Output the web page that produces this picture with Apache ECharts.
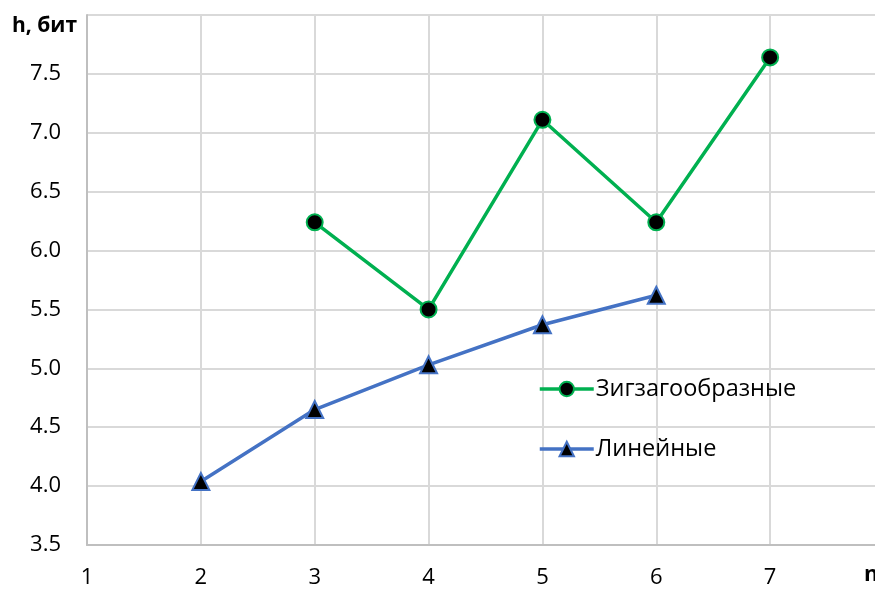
<!DOCTYPE html>
<html>
<head>
<meta charset="utf-8">
<script src="https://cdn.jsdelivr.net/npm/echarts@6/dist/echarts.min.js"></script>
<style>
  html, body { margin: 0; padding: 0; background: #fff; overflow: hidden; }
  #chart { width: 875px; height: 592px; }
</style>
</head>
<body>
<div id="chart"></div>
<script>
// Entropy h (bits) versus n for zigzag and linear shapes
const zigzagN = [3, 4, 5, 6, 7];
const zigzagH = [6.24, 5.50, 7.11, 6.24, 7.64];
const linearN = [2, 3, 4, 5, 6];
const linearH = [4.04, 4.65, 5.03, 5.37, 5.62];
const seriesNames = ['Зигзагообразные', 'Линейные'];
const yAxisTitle = 'h, бит';
const xAxisTitle = 'n';

const font = '"Open Sans", "Liberation Sans", sans-serif';
const chart = echarts.init(document.getElementById('chart'), null, { renderer: 'canvas' });

chart.setOption({
  animation: false,
  backgroundColor: '#ffffff',
  // the plot runs on past the right edge of the canvas, so n = 8 is clipped
  grid: { left: 87, top: 15, width: 797, height: 530, containLabel: false, outerBoundsMode: 'none' },
  legend: {
    orient: 'vertical',
    left: 533,
    top: 372,
    itemWidth: 54,
    itemHeight: 18,
    itemGap: 36,
    lineStyle: { width: 3.5 },
    textStyle: { fontFamily: font, fontSize: 23.5, color: '#000', padding: [0, 0, 0, -3] },
    data: seriesNames
  },
  graphic: [{
    type: 'text',
    left: 864,
    top: 564,
    style: { text: xAxisTitle, fontFamily: font, fontSize: 22, fontWeight: 'bold', fill: '#000' }
  }],
  xAxis: {
    type: 'value',
    min: 1, max: 8, interval: 1,
    axisLine: { show: true, lineStyle: { color: '#bfbfbf', width: 2 } },
    axisTick: { show: false },
    splitLine: { show: true, lineStyle: { color: '#d9d9d9', width: 2 } },
    axisLabel: {
      fontFamily: font, fontSize: 22, color: '#000', margin: 22,
      formatter: v => (v >= 8 ? '' : String(v))
    }
  },
  yAxis: {
    type: 'value',
    min: 3.5, max: 8, interval: 0.5,
    name: yAxisTitle,
    nameLocation: 'end',
    nameGap: 0,
    nameTextStyle: { fontFamily: font, fontSize: 21, color: '#000', fontWeight: 'bold', align: 'right', padding: [0, 10, -22, 0] },
    axisLine: { show: true, lineStyle: { color: '#bfbfbf', width: 2 } },
    axisTick: { show: false },
    splitLine: { show: true, lineStyle: { color: '#d9d9d9', width: 2 } },
    axisLabel: {
      fontFamily: font, fontSize: 22, color: '#000', margin: 26,
      formatter: v => (v >= 8 ? '' : v.toFixed(1))
    }
  },
  series: [
    {
      name: seriesNames[0],
      type: 'line',
      data: zigzagN.map((n, i) => [n, zigzagH[i]]),
      symbol: 'circle',
      symbolSize: 16,
      lineStyle: { color: '#00b050', width: 3.5 },
      itemStyle: { color: '#000', borderColor: '#00b050', borderWidth: 2 },
      color: '#00b050'
    },
    {
      name: seriesNames[1],
      type: 'line',
      data: linearN.map((n, i) => [n, linearH[i]]),
      symbol: 'triangle',
      symbolSize: 17,
      lineStyle: { color: '#4472c4', width: 3.5 },
      itemStyle: { color: '#000', borderColor: '#4472c4', borderWidth: 2 },
      color: '#4472c4'
    }
  ]
});
</script>
</body>
</html>
